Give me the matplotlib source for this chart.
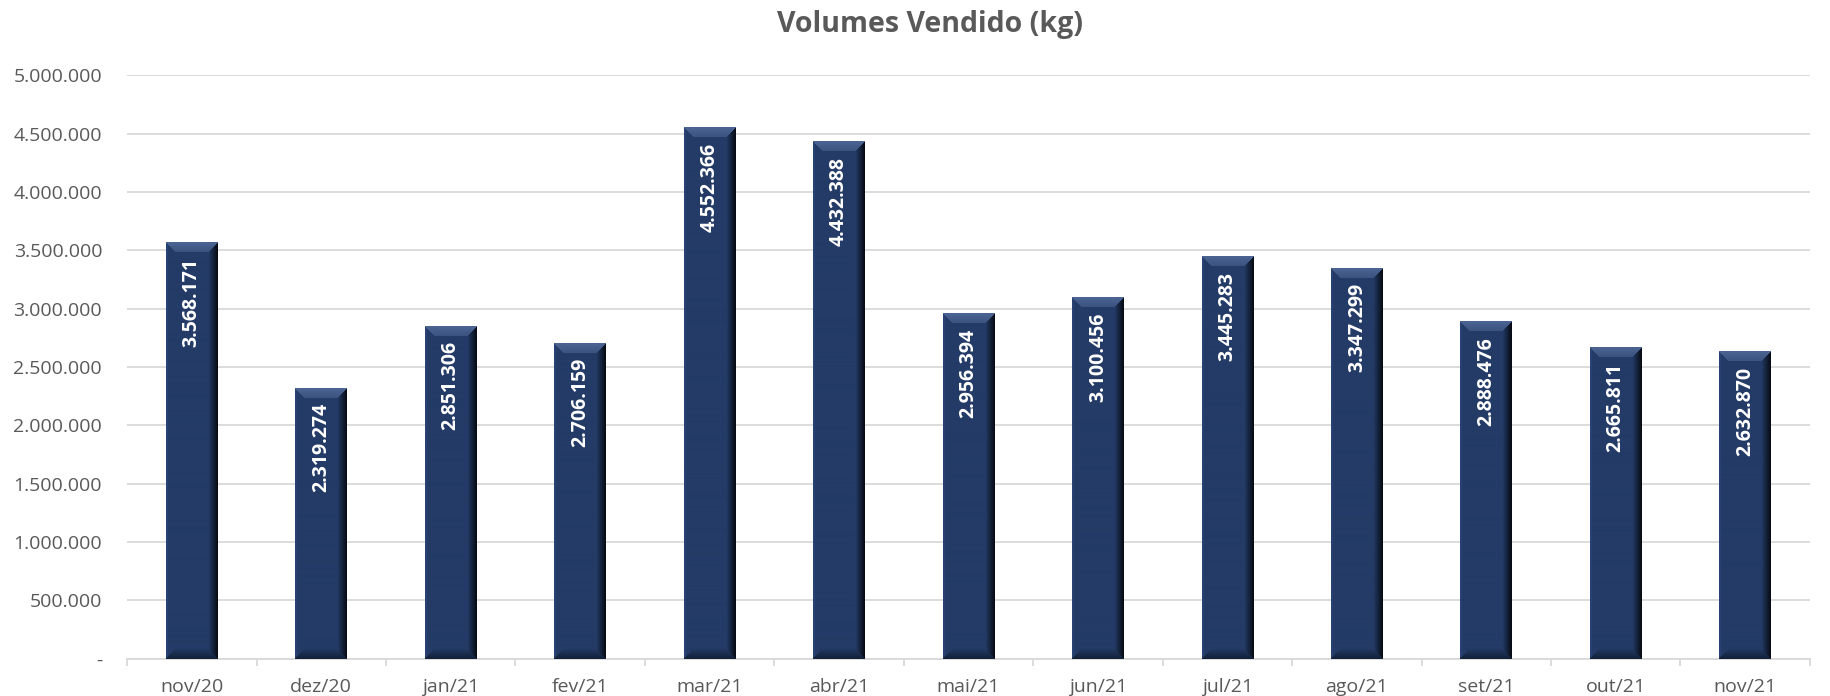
import numpy as np
import matplotlib
matplotlib.use("Agg")
from matplotlib import pyplot as plt
from matplotlib.ticker import FixedLocator

plt.rcParams['font.family'] = ['Open Sans', 'DejaVu Sans']

# data
months = ['nov/20', 'dez/20', 'jan/21', 'fev/21', 'mar/21', 'abr/21', 'mai/21',
          'jun/21', 'jul/21', 'ago/21', 'set/21', 'out/21', 'nov/21']
volumes = [3568171, 2319274, 2851306, 2706159, 4552366, 4432388, 2956394,
           3100456, 3445283, 3347299, 2888476, 2665811, 2632870]
yticks = [0, 500000, 1000000, 1500000, 2000000, 2500000, 3000000,
          3500000, 4000000, 4500000, 5000000]

grey = '#595959'
grid = '#d9d9d9'


def fmt(v):
    return '-' if v == 0 else f"{v:,}".replace(',', '.')


def bevel_image(h_px, w_px, b=10):
    base = np.array([35, 59, 102]) / 255
    img = np.tile(base, (h_px, w_px, 1)).astype(float)
    cols = np.arange(w_px)
    # horizontal shading: slight highlight on left, dark right edge
    shade = np.ones(w_px)
    edge = 9
    shade[-edge:] = np.linspace(0.92, 0.2, edge)
    shade[:2] = 1.12
    img *= shade[None, :, None]
    light = np.array([75, 100, 145]) / 255
    for r in range(min(b, h_px)):
        t = 1 - r / b
        m = (cols >= r) & (cols <= w_px - 1 - r)
        img[r, m] = base + (light - base) * (0.55 + 0.45 * t)
        rr = h_px - 1 - r
        img[rr, m] = base * (1 - 0.45 * t)
    return np.clip(img, 0, 1)


fig = plt.figure(figsize=(18.31, 6.96), dpi=100)
ax = fig.add_axes([0.0694, 0.0536, 0.9191, 0.8384])

x = np.arange(len(months))
w = 0.40
bars = ax.bar(x, volumes, width=w, color='#233b66', zorder=2)

ax.set_xlim(-0.5, len(months) - 0.5)
ax.set_ylim(0, 5000000)

# beveled look on each bar
ppu = 583.7 / 5000000
for xi, v in zip(x, volumes):
    img = bevel_image(int(v * ppu), 52)
    ax.imshow(img, extent=(xi - w / 2, xi + w / 2, 0, v), aspect='auto',
              interpolation='bilinear', zorder=3)
    ax.annotate(fmt(v), (xi, v), xytext=(0, -11), textcoords='offset points',
                rotation=90, ha='center', va='top', color='white',
                fontsize=14, fontweight='bold', zorder=4)

ax.set_yticks(yticks)
ax.set_yticklabels([fmt(t) for t in yticks])
ax.set_xticks(x)
ax.set_xticklabels(months)
ax.xaxis.set_minor_locator(FixedLocator(np.arange(-0.5, len(months), 1)))
ax.tick_params(axis='y', length=0, pad=18, labelsize=14, labelcolor=grey)
ax.tick_params(axis='x', which='major', length=0, pad=14, labelsize=14, labelcolor=grey)
ax.tick_params(axis='x', which='minor', length=5, width=1.3, color=grid)
ax.grid(axis='y', color=grid, linewidth=1.3, zorder=0)
ax.set_axisbelow(True)
for s in ['top', 'right', 'left']:
    ax.spines[s].set_visible(False)
ax.spines['bottom'].set_color(grid)
ax.spines['bottom'].set_linewidth(1.3)

fig.text(0.508, 0.965, 'Volumes Vendido (kg)', ha='center', va='center',
         fontsize=20.5, fontweight='bold', color=grey)

fig.savefig('out.png', dpi=100)
